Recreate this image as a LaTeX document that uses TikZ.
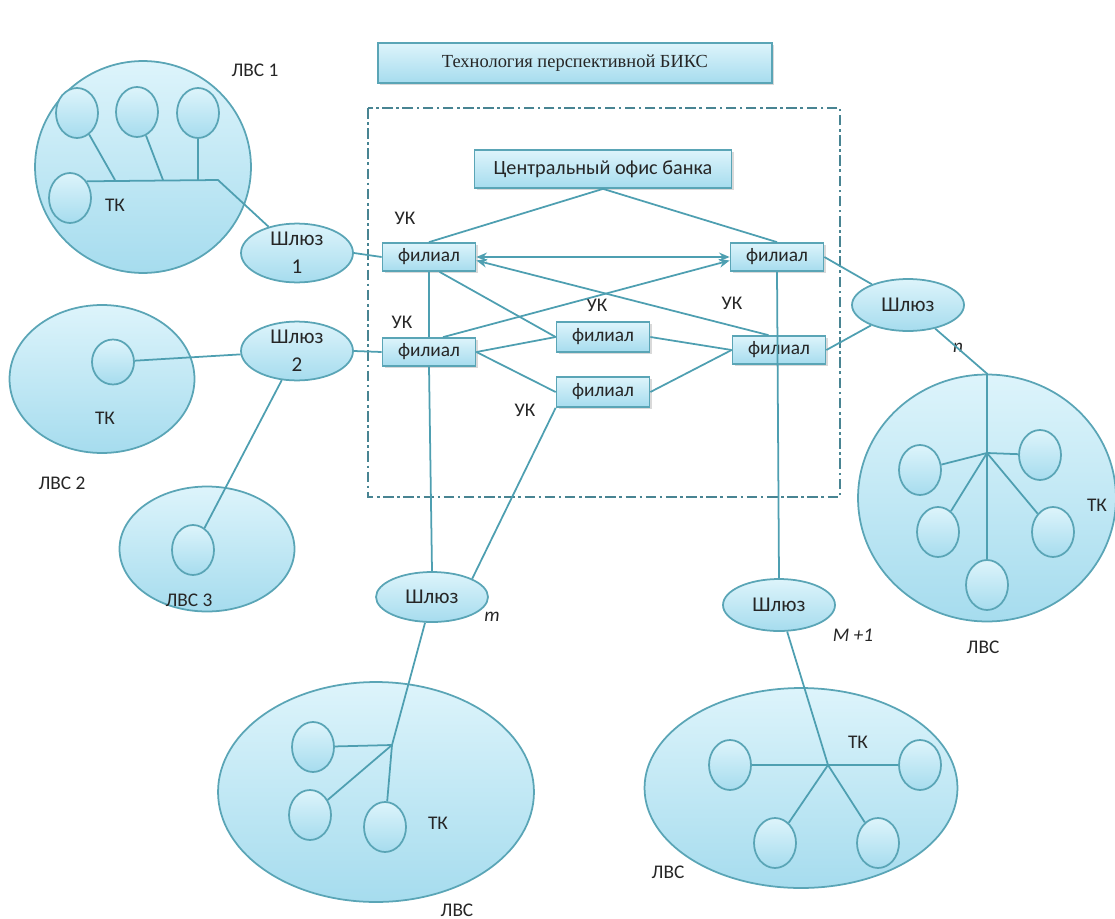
\documentclass[tikz,border=0pt]{standalone}
\usepackage{fontspec}
\setmainfont{Carlito}
\newfontfamily\titlefont{Liberation Serif}
\usetikzlibrary{shapes.geometric, arrows.meta, shadows, positioning}
\definecolor{lantop}{HTML}{DDF4FB}
\definecolor{lanbot}{HTML}{A6DCEE}
\definecolor{lanedge}{HTML}{5AA5B6}
\definecolor{wirecol}{HTML}{4E9FB1}

\begin{document}
\begin{tikzpicture}[x=0.02cm, y=-0.02cm,
    every node/.style={font=\fontsize{11}{13}\selectfont, text=black!85},
    lan/.style={ellipse, draw=lanedge, line width=1pt, top color=lantop, bottom color=lanbot, inner sep=0pt},
    pc/.style={lan, minimum width=0.84cm, minimum height=1cm},
    gate/.style={lan, minimum width=2.24cm, minimum height=1.04cm, align=center, font=\fontsize{12}{16}\selectfont},
    branch/.style={rectangle, draw=lanedge, line width=1pt, top color=lantop, bottom color=lanbot,
      minimum width=1.86cm, minimum height=0.56cm, inner sep=1pt,
      drop shadow={shadow xshift=1.2pt, shadow yshift=-1.2pt, opacity=0.3}},
    wire/.style={draw=wirecol, line width=1pt},
    arr/.style={-{Stealth[length=6pt, width=5pt]}},
  ]
  \useasboundingbox (0,0) rectangle (1115,919);

  \node[branch, minimum width=7.88cm, minimum height=0.8cm, font=\titlefont\fontsize{10.5}{12}\selectfont] (title) at (575,63) {Технология перспективной БИКС};
  \draw[lanedge!80!black, line width=1pt, dash pattern=on 6pt off 2pt on 1.5pt off 2pt] (368,108) rectangle (840,497);

  \node[branch, minimum width=5.14cm, minimum height=0.76cm, font=\fontsize{11.5}{13}\selectfont] (office) at (603,169) {Центральный офис банка};
  \node[branch] (fil1) at (429,257) {филиал};
  \node[branch] (fil2) at (429,352) {филиал};
  \node[branch] (fil3) at (777,257) {филиал};
  \node[branch] (fil4) at (779,350) {филиал};
  \node[branch, minimum height=0.6cm] (fil5) at (603,337) {филиал};
  \node[branch, minimum height=0.6cm] (fil6) at (603,392) {филиал};

  \node (uk1) at (405,218) {УК};
  \node (uk2) at (402,322) {УК};
  \node (uk3) at (597,305) {УК};
  \node (uk4) at (732,303) {УК};
  \node (uk5) at (525,410) {УК};

  \node[gate] (gw1) at (297,253) {Шлюз\\1};
  \node[gate] (gw2) at (297,351) {Шлюз\\2};
  \node[gate] (gwn) at (908,305) {Шлюз};
  \node[gate, minimum height=1cm] (gwm) at (432,597) {Шлюз};
  \node[gate] (gwk) at (779,605) {Шлюз};
  \node (idxn) at (958,348) {\textit{n}};
  \node (idxm) at (492,617) {\textit{m}};
  \node (idxk) at (853,635) {\textit{M +1}};

  % ЛВС 1
  \node[lan, minimum width=4.32cm, minimum height=4.24cm] (lan1) at (143,167) {};
  \node[pc] (l1a) at (77,113) {};
  \node[pc] (l1b) at (137,112) {};
  \node[pc] (l1c) at (198,113) {};
  \node[pc] (l1d) at (70,198) {};
  \coordinate (l1ja) at (115,180);
  \coordinate (l1jb) at (163,180);
  \coordinate (l1jc) at (198,180);
  \coordinate (l1bus) at (218,180);
  \node (tk1) at (115,205) {ТК};
  \node (name1) at (255,70) {ЛВС 1};

  % ЛВС 2 and 3
  \node[lan, minimum width=3.7cm, minimum height=2.96cm] (lan2) at (102,379) {};
  \node[pc, minimum height=0.9cm] (l2a) at (113,362) {};
  \node (tk2) at (105,418) {ТК};
  \node (name2) at (62,483) {ЛВС 2};
  \node[lan, minimum width=3.5cm, minimum height=2.5cm] (lan3) at (207,549) {};
  \node[pc] (l3a) at (193,550) {};
  \node (name3) at (189,600) {ЛВС 3};

  % ЛВС n
  \node[lan, minimum width=5.16cm, minimum height=4.94cm] (lann) at (987,498) {};
  \node[pc] (lna) at (920,470) {};
  \node[pc] (lnb) at (1040,455) {};
  \node[pc] (lnc) at (938,532) {};
  \node[pc] (lnd) at (1053,532) {};
  \node[pc] (lne) at (987,585) {};
  \coordinate (lnhub) at (987,453);
  \node (tkn) at (1097,505) {ТК};
  \node (namen) at (983,647) {ЛВС};

  % ЛВС m
  \node[lan, minimum width=6.32cm, minimum height=4.4cm] (lanm) at (376,792) {};
  \node[pc] (lma) at (313,747) {};
  \node[pc] (lmb) at (310,815) {};
  \node[pc] (lmc) at (385,827) {};
  \coordinate (lmhub) at (392,745);
  \node (tkm) at (438,823) {ТК};
  \node (namem) at (457,910) {ЛВС};

  % ЛВС M+1
  \node[lan, minimum width=6.26cm, minimum height=4cm] (lank) at (801,788) {};
  \node[pc] (lka) at (730,765) {};
  \node[pc] (lkb) at (920,765) {};
  \node[pc] (lkc) at (775,843) {};
  \node[pc] (lkd) at (878,843) {};
  \coordinate (lkhub) at (828,765);
  \node (tkk) at (858,742) {ТК};
  \node (namek) at (668,872) {ЛВС};

  \draw[wire] (office.south) -- (fil1.north);
  \draw[wire] (office.south) -- (fil3.north);
  \draw[wire, {Stealth[length=6pt, width=5pt]}-{Stealth[length=6pt, width=5pt]}] (fil1.east) -- (fil3.west);
  \draw[wire, arr] ([xshift=-6pt]fil4.north) -- ([yshift=-2pt]fil1.east);
  \draw[wire, arr] ([xshift=8pt]fil2.north) -- ([yshift=-2pt]fil3.west);
  \draw[wire] ([xshift=6pt]fil1.south) -- (fil5.west);
  \draw[wire] (fil2.east) -- (fil5.west);
  \draw[wire] (fil2.east) -- (fil6.west);
  \draw[wire] (fil5.east) -- (fil4.west);
  \draw[wire] (fil6.east) -- (fil4.west);
  \draw[wire] (fil1) -- (fil2);
  \draw[wire] (fil2.south) -- (gwm.north);
  \draw[wire] (fil3.south) -- (gwk.north);
  \draw[wire] (fil6.south west) -- (gwm.north east);
  \draw[wire] (fil3.east) -- (gwn);
  \draw[wire] (fil4.east) -- (gwn);
  \draw[wire] (gw1.east) -- (fil1.west);
  \draw[wire] (gw2.east) -- (fil2.west);

  \draw[wire] (l1a) -- (l1ja);
  \draw[wire] (l1b) -- (l1jb);
  \draw[wire] (l1c) -- (l1jc);
  \draw[wire] (l1d.45) -- (l1bus) -- (gw1);
  \draw[wire] (l2a) -- (gw2);
  \draw[wire] (gw2) -- (l3a);
  \draw[wire] (gwn) -- (lann.north) -- (lne);
  \foreach \c in {lna,lnb,lnc,lnd}
    \draw[wire] (lnhub) -- (\c);
  \draw[wire] (gwm) -- (lmhub) -- (lmc);
  \draw[wire] (lmhub) -- (lma);
  \draw[wire] (lmhub) -- (lmb);
  \draw[wire] (gwk) -- (lkhub);
  \draw[wire] (lka) -- (lkb);
  \draw[wire] (lkhub) -- (lkc);
  \draw[wire] (lkhub) -- (lkd);
\end{tikzpicture}
\end{document}
